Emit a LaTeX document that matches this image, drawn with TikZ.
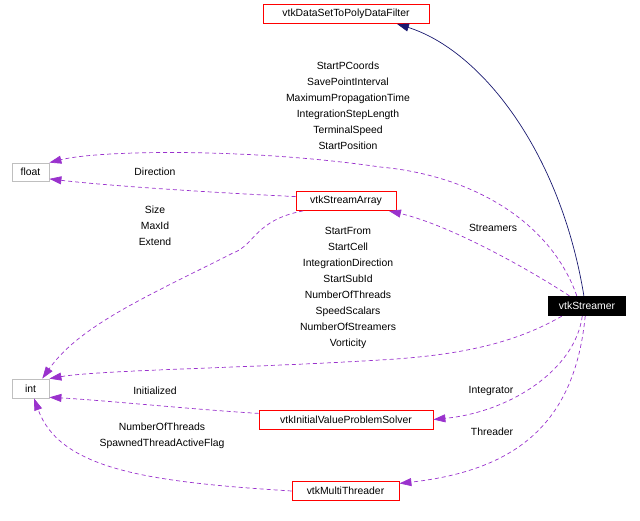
\documentclass[tikz,border=0pt]{standalone}
\usepackage{fontspec}
\setmainfont{Liberation Sans}
\usetikzlibrary{arrows.meta}
\definecolor{usecol}{HTML}{9A32CD}
\definecolor{inhcol}{HTML}{191970}
\definecolor{extcol}{HTML}{BFBFBF}

\begin{document}
\begin{tikzpicture}[x=1pt, y=-1pt,
        every node/.style={font=\fontsize{10.4pt}{16pt}\selectfont, inner sep=0pt},
        cls/.style={rectangle, draw=red, line width=0.8pt, minimum height=19pt},
        ext/.style={rectangle, draw=extcol, line width=0.8pt, minimum width=37pt, minimum height=18pt},
        main/.style={rectangle, fill=black, text=white, minimum width=78pt, minimum height=20pt},
        inh/.style={draw=inhcol, line width=0.7pt, -{Triangle[length=12pt,width=8pt]}},
        use/.style={draw=usecol, line width=0.7pt, dash pattern=on 4pt off 3pt, -{Triangle[length=12pt,width=8pt]}},
        lbl/.style={align=center}]
    \useasboundingbox (0,0) rectangle (640,521);

    \node[cls, minimum width=166pt] (filter) at (346,14) {vtkDataSetToPolyDataFilter};
    \node[ext] (float) at (30.5,172) {float};
    \node[cls, minimum width=100pt] (sarray) at (346,201) {vtkStreamArray};
    \node[main] (streamer) at (587,306) {vtkStreamer};
    \node[ext, minimum height=19pt] (int) at (30.5,388.5) {int};
    \node[cls, minimum width=174pt] (solver) at (346,419.5) {vtkInitialValueProblemSolver};
    \node[cls, minimum width=107pt] (threader) at (345.5,491) {vtkMultiThreader};

    % member labels
    \node[lbl] (lpos) at (348,106) {StartPCoords\\SavePointInterval\\MaximumPropagationTime\\IntegrationStepLength\\TerminalSpeed\\StartPosition};
    \node (ldir) at (155,172) {Direction};
    \node[lbl] (lsize) at (155,226) {Size\\MaxId\\Extend};
    \node (lstreamers) at (493,228) {Streamers};
    \node[lbl] (lstart) at (348,288) {StartFrom\\StartCell\\IntegrationDirection\\StartSubId\\NumberOfThreads\\SpeedScalars\\NumberOfStreamers\\Vorticity};
    \node (linit) at (155,391) {Initialized};
    \node (linteg) at (491,391) {Integrator};
    \node[lbl] (lthreads) at (162,436) {NumberOfThreads\\SpawnedThreadActiveFlag};
    \node (lthreader) at (492,432) {Threader};

    \draw[inh] (streamer.107) .. controls (560,150) and (480,50) .. (filter.349);
    \draw[use] (streamer.135) .. controls (550,220) and (470,175) .. (380,167)
        .. controls (250,148) and (100,150) .. (float.north east);
    \draw[use] (sarray.175) .. controls (200,192) and (100,185) .. (float.-20);
    \draw[use] (streamer.150) .. controls (530,270) and (450,225) .. (sarray.347);
    \draw[use] (sarray.193) .. controls (255,220) and (255,245) .. (233,253)
        .. controls (150,295) and (80,325) .. (int.40);
    \draw[use] (streamer.202) .. controls (520,340) and (470,355) .. (380,360)
        .. controls (250,368) and (100,370) .. (int.north east);
    \draw[use] (solver.176) .. controls (200,410) and (100,400) .. (int.-25);
    \draw[use] (streamer.245) .. controls (575,370) and (510,412) .. (solver.east);
    \draw[use] (threader.west) .. controls (150,482) and (60,470) .. (int.-70);
    \draw[use] (streamer.260) .. controls (575,420) and (520,470) .. (threader.8);
\end{tikzpicture}
\end{document}
